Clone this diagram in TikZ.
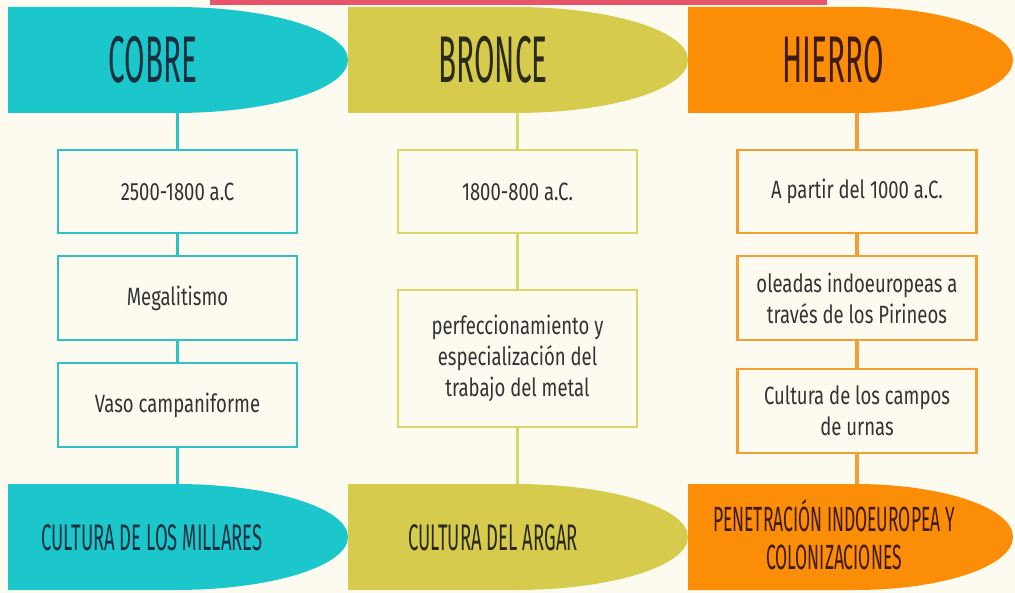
\documentclass[tikz,border=0pt]{standalone}
\usepackage{fontspec}
\setmainfont{Fira Sans}
\newfontfamily\boxfont[FakeStretch=0.74]{Fira Sans}
\newfontfamily\hfont[FakeStretch=0.45]{Fira Sans}
\newfontfamily\bfont[FakeStretch=0.5]{Fira Sans}
\definecolor{bg}{HTML}{FDFAF0}
\definecolor{pinkbar}{HTML}{E8546A}
\definecolor{cuC}{HTML}{1CC7CC}
\definecolor{brC}{HTML}{D6CB4C}
\definecolor{hiC}{HTML}{FB8D07}
\definecolor{cuL}{HTML}{2EC2C6}
\definecolor{brL}{HTML}{DCD66A}
\definecolor{hiL}{HTML}{F3A032}
\definecolor{cuT}{HTML}{17303F}
\definecolor{brT}{HTML}{2A2A18}
\definecolor{hiT}{HTML}{3E1A10}
\definecolor{boxT}{HTML}{333333}
\newcommand\hdrshape[5]{% color, left x, ellipse start x, tip x, top y
  \fill[#1] (#2,#5) -- (#3,#5)
    .. controls ({#3+0.5523*(#4-#3)},#5) and (#4,{#5+53-0.5523*53}) .. (#4,{#5+53})
    .. controls (#4,{#5+53+0.5523*53}) and ({#3+0.5523*(#4-#3)},{#5+106}) .. (#3,{#5+106})
    -- (#2,{#5+106}) -- cycle;}
\tikzset{
  infobox/.style={draw=#1, line width=2.5pt, fill=bg, minimum width=239pt,
    align=center, text=boxT, font=\boxfont\fontsize{25}{31}\selectfont, inner sep=4pt},
  conn/.style={draw=#1, line width=3.5pt},
  toptext/.style={text=#1, font=\hfont\fontsize{66}{70}\selectfont, inner sep=0pt},
  bottext/.style={text=#1, font=\bfont\fontsize{37}{38}\selectfont, inner sep=0pt, align=center}
}
\begin{document}
\begin{tikzpicture}[x=1pt,y=-1pt]
\fill[bg] (0,0) rectangle (1015,593);
\useasboundingbox (0,0) rectangle (1015,593);
\fill[pinkbar] (210,0) rectangle (827,5);
% header and footer shapes
\hdrshape{hiC}{688}{855}{1013}{7}
\hdrshape{brC}{348}{515}{688}{7}
\hdrshape{cuC}{8}{175}{348}{7}
\hdrshape{hiC}{688}{855}{1013}{484}
\hdrshape{brC}{348}{515}{688}{484}
\hdrshape{cuC}{8}{175}{348}{484}
% header texts
\node[toptext=cuT] (cobre) at (153,60) {COBRE};
\node[toptext=brT] (bronce) at (493,60) {BRONCE};
\node[toptext=hiT] (hierro) at (833,60) {HIERRO};
\node[bottext=cuT] (millares) at (152,538) {CULTURA DE LOS MILLARES};
\node[bottext=brT] (argar) at (493,538) {CULTURA DEL ARGAR};
\node[bottext=hiT, font=\bfont\fontsize{35}{38}\selectfont] (penetracion) at (834,535) {PENETRACIÓN INDOEUROPEA Y\\COLONIZACIONES};
% anchor coordinates on shapes
\coordinate (cuTop) at (177.5,113);
\coordinate (cuBot) at (177.5,484);
\coordinate (brTop) at (517.5,113);
\coordinate (brBot) at (517.5,484);
\coordinate (hiTop) at (857,113);
\coordinate (hiBot) at (857,484);
% boxes
\node[infobox=cuL, minimum height=83pt] (c1) at (177.5,191.5) {2500-1800 a.C};
\node[infobox=cuL, minimum height=84pt] (c2) at (177.5,298) {Megalitismo};
\node[infobox=cuL, minimum height=84pt] (c3) at (177.5,405) {Vaso campaniforme};
\node[infobox=brL, minimum height=83pt] (b1) at (517.5,191.5) {1800-800 a.C.};
\node[infobox=brL, minimum height=137pt] (b2) at (517.5,358.5) {perfeccionamiento y\\especialización del\\trabajo del metal};
\node[infobox=hiL, minimum height=83pt] (h1) at (857,191.5) {A partir del 1000 a.C.};
\node[infobox=hiL, minimum height=84pt] (h2) at (857,298) {oleadas indoeuropeas a\\través de los Pirineos};
\node[infobox=hiL, minimum height=84pt] (h3) at (857,411) {Cultura de los campos\\de urnas};
% connectors
\draw[conn=cuL] (cuTop) -- (c1.north);
\draw[conn=cuL] (c1.south) -- (c2.north);
\draw[conn=cuL] (c2.south) -- (c3.north);
\draw[conn=cuL] (c3.south) -- (cuBot);
\draw[conn=brL] (brTop) -- (b1.north);
\draw[conn=brL] (b1.south) -- (b2.north);
\draw[conn=brL] (b2.south) -- (brBot);
\draw[conn=hiL] (hiTop) -- (h1.north);
\draw[conn=hiL] (h1.south) -- (h2.north);
\draw[conn=hiL] (h2.south) -- (h3.north);
\draw[conn=hiL] (h3.south) -- (hiBot);
\end{tikzpicture}
\end{document}
